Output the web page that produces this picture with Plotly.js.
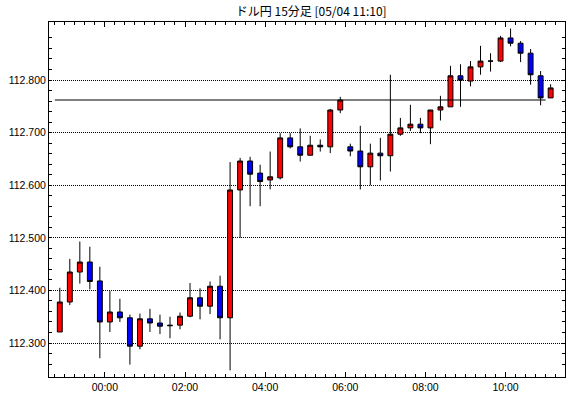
<!DOCTYPE html>
<html>
<head>
<meta charset="utf-8">
<script src="https://cdn.plot.ly/plotly-3.0.1.min.js"></script>
<style>html,body{margin:0;padding:0;background:#fff;}#chart{width:570px;height:398px;}</style>
</head>
<body>
<div id="chart"></div>
<script>
// 15-minute bar start times (05/03 22:45 -> 05/04 11:00)
const barStart = [
  "2017-05-03 22:45","2017-05-03 23:00","2017-05-03 23:15","2017-05-03 23:30","2017-05-03 23:45",
  "2017-05-04 00:00","2017-05-04 00:15","2017-05-04 00:30","2017-05-04 00:45","2017-05-04 01:00",
  "2017-05-04 01:15","2017-05-04 01:30","2017-05-04 01:45","2017-05-04 02:00","2017-05-04 02:15",
  "2017-05-04 02:30","2017-05-04 02:45","2017-05-04 03:00","2017-05-04 03:15","2017-05-04 03:30",
  "2017-05-04 03:45","2017-05-04 04:00","2017-05-04 04:15","2017-05-04 04:30","2017-05-04 04:45",
  "2017-05-04 05:00","2017-05-04 05:15","2017-05-04 05:30","2017-05-04 05:45","2017-05-04 06:00",
  "2017-05-04 06:15","2017-05-04 06:30","2017-05-04 06:45","2017-05-04 07:00","2017-05-04 07:15",
  "2017-05-04 07:30","2017-05-04 07:45","2017-05-04 08:00","2017-05-04 08:15","2017-05-04 08:30",
  "2017-05-04 08:45","2017-05-04 09:00","2017-05-04 09:15","2017-05-04 09:30","2017-05-04 09:45",
  "2017-05-04 10:00","2017-05-04 10:15","2017-05-04 10:30","2017-05-04 10:45","2017-05-04 11:00"
];
const openP = [
  112.321,112.378,112.435,112.454,112.418,112.340,112.359,112.348,112.294,112.346,
  112.338,112.334,112.334,112.351,112.386,112.370,112.408,112.348,112.591,112.646,
  112.623,112.610,112.614,112.690,112.673,112.657,112.676,112.673,112.743,112.673,
  112.665,112.635,112.661,112.656,112.697,112.709,112.716,112.709,112.743,112.749,
  112.808,112.798,112.825,112.836,112.836,112.880,112.870,112.851,112.808,112.766
];
const highP = [
  112.405,112.460,112.493,112.483,112.445,112.399,112.384,112.354,112.356,112.365,
  112.354,112.350,112.358,112.414,112.404,112.417,112.428,112.644,112.652,112.654,
  112.639,112.664,112.699,112.699,112.708,112.694,112.687,112.745,112.768,112.679,
  112.713,112.679,112.690,112.810,112.728,112.753,112.728,112.743,112.770,112.827,
  112.830,112.836,112.865,112.851,112.884,112.898,112.874,112.859,112.817,112.792
];
const lowP = [
  112.321,112.372,112.413,112.402,112.271,112.321,112.340,112.259,112.288,112.321,
  112.317,112.309,112.326,112.349,112.345,112.355,112.307,112.248,112.500,112.560,
  112.560,112.592,112.611,112.670,112.645,112.657,112.664,112.661,112.737,112.655,
  112.592,112.600,112.609,112.626,112.694,112.703,112.699,112.678,112.723,112.749,
  112.749,112.788,112.810,112.816,112.834,112.864,112.834,112.791,112.752,112.766
];
const closeP = [
  112.378,112.435,112.454,112.417,112.340,112.359,112.348,112.294,112.346,112.338,
  112.332,112.333,112.351,112.386,112.370,112.408,112.348,112.591,112.646,112.621,
  112.607,112.616,112.690,112.673,112.657,112.676,112.673,112.743,112.762,112.665,
  112.635,112.661,112.656,112.697,112.709,112.716,112.709,112.743,112.749,112.808,
  112.800,112.825,112.836,112.836,112.880,112.870,112.851,112.810,112.766,112.785
];
const yTickVals = [112.300, 112.400, 112.500, 112.600, 112.700, 112.800];
const yMinorVals = [
  112.26,112.28,112.32,112.34,112.36,112.38,112.42,112.44,112.46,112.48,
  112.52,112.54,112.56,112.58,112.62,112.64,112.66,112.68,112.72,112.74,
  112.76,112.78,112.82,112.84,112.86,112.88
];
const refLevel = 112.762;
const refStart = "2017-05-03 22:45";
const refEnd = "2017-05-04 11:00";
const chartTitle = "ドル円 15分足 [05/04 11:10]";

const halfBar = 7.5 * 60 * 1000;
const fmt = d => {
  const p = n => String(n).padStart(2, "0");
  return d.getUTCFullYear() + "-" + p(d.getUTCMonth() + 1) + "-" + p(d.getUTCDate()) + " " +
         p(d.getUTCHours()) + ":" + p(d.getUTCMinutes()) + ":" + p(d.getUTCSeconds());
};
const xCenter = barStart.map(s => fmt(new Date(Date.parse(s.replace(" ", "T") + ":00Z") + halfBar)));

const traces = [
  {
    type: "scatter", mode: "lines",
    x: [refStart, refEnd], y: [refLevel, refLevel],
    line: {color: "#000", width: 1}, hoverinfo: "skip", showlegend: false
  },
  {
    type: "candlestick",
    x: xCenter, open: openP, high: highP, low: lowP, close: closeP,
    increasing: {fillcolor: "#ff0000", line: {color: "#000", width: 1}},
    decreasing: {fillcolor: "#0000ff", line: {color: "#000", width: 1}},
    whiskerwidth: 0, showlegend: false
  }
];

const layout = {
  width: 570, height: 398,
  margin: {l: 49, r: 5, t: 22, b: 21, pad: 0},
  paper_bgcolor: "#fff", plot_bgcolor: "#fff",
  showlegend: false,
  title: {text: chartTitle, x: 0.546, xanchor: "center", y: 0.97, yanchor: "middle",
          font: {family: "Noto Sans CJK JP", size: 12, color: "#000"}},
  xaxis: {
    type: "date",
    range: ["2017-05-03 22:36:20", "2017-05-04 11:29:00"],
    rangeslider: {visible: false},
    tick0: "2017-05-04 00:00", dtick: 2 * 3600 * 1000,
    tickformat: "%H:%M",
    ticks: "inside", ticklen: 5, tickcolor: "#000", tickwidth: 1,
    minor: {dtick: 15 * 60 * 1000, tick0: "2017-05-04 00:00", ticks: "inside", ticklen: 3, tickcolor: "#000", showgrid: false},
    showgrid: false, zeroline: false,
    showline: true, linecolor: "#000", linewidth: 1, mirror: "ticks",
    tickfont: {family: "Liberation Sans", size: 10.5, color: "#000"},
    fixedrange: true
  },
  yaxis: {
    range: [112.2354, 112.9103],
    tickmode: "array", tickvals: yTickVals, tickformat: ".3f",
    ticks: "inside", ticklen: 3, tickcolor: "#000", tickwidth: 1,
    minor: {tickmode: "array", tickvals: yMinorVals, ticks: "inside", ticklen: 3, tickcolor: "#000", showgrid: false},
    showgrid: true, gridcolor: "#000", gridwidth: 1, griddash: "1px,1px",
    zeroline: false,
    showline: true, linecolor: "#000", linewidth: 1, mirror: "ticks",
    tickfont: {family: "Liberation Sans", size: 10.5, color: "#000"},
    fixedrange: true
  }
};

Plotly.newPlot("chart", traces, layout, {displayModeBar: false, staticPlot: true});
</script>
</body>
</html>
